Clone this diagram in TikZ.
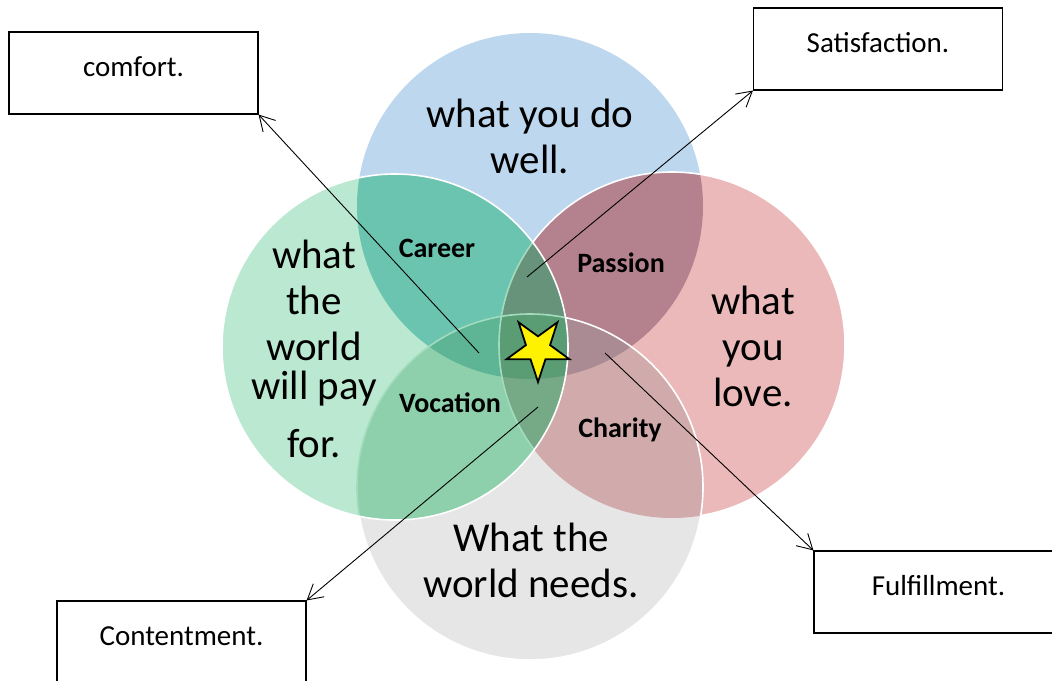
\documentclass[tikz,border=0pt]{standalone}
\usepackage{fontspec}
\setmainfont{Carlito}
\usetikzlibrary{arrows.meta,shapes.geometric}

\definecolor{dowell}{HTML}{BDD7EE}
\definecolor{paid}{HTML}{BBE8D0}
\definecolor{love}{HTML}{EBB9B9}
\definecolor{needs}{HTML}{E6E6E6}
\definecolor{career}{HTML}{6BC4B0}
\definecolor{passion}{HTML}{B4828F}
\definecolor{vocation}{HTML}{8DD0AB}
\definecolor{charity}{HTML}{D1ABAB}
\definecolor{gpb}{HTML}{67937A}
\definecolor{gpw}{HTML}{76AA86}
\definecolor{gbw}{HTML}{5DB595}
\definecolor{pbw}{HTML}{AA8A93}
\definecolor{core}{HTML}{5A9D75}
\definecolor{rimgreen}{HTML}{A2DCBD}

\tikzset{
  note/.style={draw, line width=1.1pt, minimum width=249pt, minimum height=82pt,
    inner sep=0pt, font=\fontsize{29}{34}\selectfont, text height=20pt, text depth=14pt},
  link/.style={line width=0.9pt, -{Straight Barb[length=15pt,width=17pt]}},
  big/.style={font=\fontsize{41}{46}\selectfont, align=center},
  tag/.style={font=\bfseries\fontsize{28}{32}\selectfont, anchor=base},
  rim/.style={white, line width=1.6pt},
  innerrim/.style={rimgreen, line width=1.6pt},
  hero/.style={star, star points=5, star point ratio=2.6, minimum size=66pt,
    inner sep=0pt, shape border rotate=180, draw=black, line width=1.8pt, fill=yellow}
}
\def\rad{173pt}

\begin{document}
\begin{tikzpicture}[x=1pt,y=-1pt]
\useasboundingbox (0,0) rectangle (1052,680);
\clip (0,0) rectangle (1052,680);

\coordinate (cb) at (530,206);
\coordinate (cg) at (395,347);
\coordinate (cp) at (672,345);
\coordinate (cw) at (530,487);

% the four circles
\fill[dowell] (cb) circle (\rad);
\fill[paid] (cg) circle (\rad);
\fill[love] (cp) circle (\rad);
\fill[needs] (cw) circle (\rad);

% two-way overlaps
\begin{scope}
  \clip (cb) circle (\rad);
  \fill[career] (cg) circle (\rad);
  \fill[passion] (cp) circle (\rad);
\end{scope}
\begin{scope}
  \clip (cw) circle (\rad);
  \fill[vocation] (cg) circle (\rad);
  \fill[charity] (cp) circle (\rad);
\end{scope}

% three-way overlaps
\begin{scope}
  \clip (cg) circle (\rad);
  \clip (cp) circle (\rad);
  \fill[gpb] (cb) circle (\rad);
  \fill[gpw] (cw) circle (\rad);
\end{scope}
\begin{scope}
  \clip (cb) circle (\rad);
  \clip (cw) circle (\rad);
  \fill[gbw] (cg) circle (\rad);
  \fill[pbw] (cp) circle (\rad);
\end{scope}

% all four
\begin{scope}
  \clip (cb) circle (\rad);
  \clip (cw) circle (\rad);
  \clip (cg) circle (\rad);
  \fill[core] (cp) circle (\rad);
\end{scope}

% rims
\begin{scope}[even odd rule]
  \clip (0,0) rectangle (1052,680) (cg) circle (\rad);
  \begin{scope}
    \clip (0,0) rectangle (1052,680) (cw) circle (\rad);
    \draw[rim] (cp) circle (\rad);
  \end{scope}
  \draw[rim] (cw) circle (\rad);
\end{scope}
\begin{scope}
  \clip (cg) circle (\rad);
  \draw[innerrim] (cp) circle (\rad);
  \draw[innerrim] (cw) circle (\rad);
\end{scope}
\draw[rim] (cg) circle (\rad);

% texts
\node[big] (dowelltxt) at (530,136) {what you do\\well.};
\node[big] (paidtxt) at (314,349) {what\\the\\world\\[-7pt]will pay\\[12pt]for.};
\node[big] (lovetxt) at (753,346) {what\\you\\love.};
\node[big] (needstxt) at (531,560) {What the\\world needs.};

\node[tag] (career) at (437,257) {Career};
\node[tag] (passion) at (621,272) {Passion};
\node[tag] (vocation) at (450,412) {Vocation};
\node[tag] (charity) at (620,437) {Charity};

\node[hero] (star) at (538,349) {};

% boxes
\node[note] (comfort) at (133.5,73) {comfort.};
\node[note] (satisfaction) at (878,49) {Satisfaction.};
\node[note] (contentment) at (181.5,642) {Contentment.};
\node[note] (fulfillment) at (938.5,592) {Fulfillment.};

\coordinate (comfortpt) at (479,353);
\coordinate (satisfactionpt) at (527,277);
\coordinate (contentmentpt) at (538,407);
\coordinate (fulfillmentpt) at (605,353);

\draw[link] (comfortpt) -- (comfort.south east);
\draw[link] (satisfactionpt) -- (satisfaction.south west);
\draw[link] (contentmentpt) -- (contentment.north east);
\draw[link] (fulfillmentpt) -- (fulfillment.north west);
\end{tikzpicture}
\end{document}
